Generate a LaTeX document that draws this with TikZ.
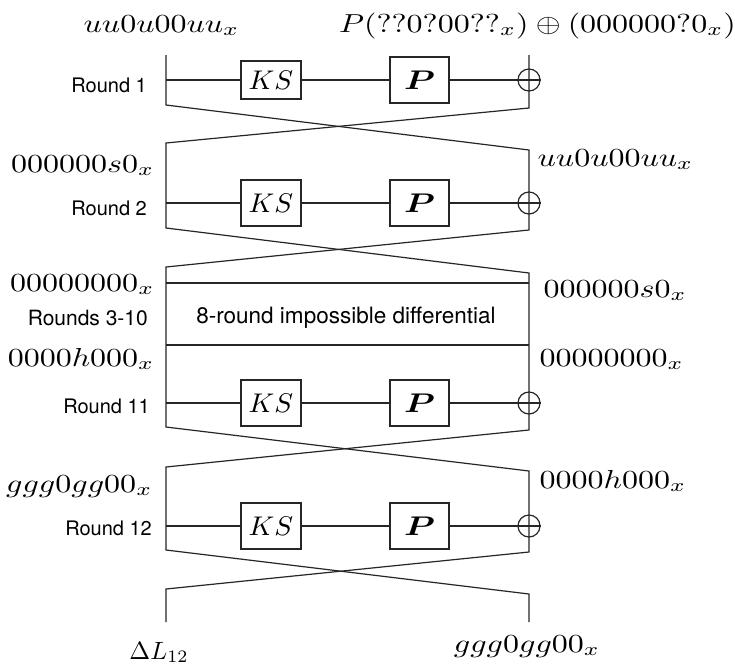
\documentclass[tikz,border=0pt]{standalone}
\usepackage{fontspec}
\setsansfont{TeX Gyre Heros}
\usepackage{amsmath}
\usepackage{graphicx}
\begin{document}
\begin{tikzpicture}[x=1pt,y=-1pt,
  wire/.style={line width=1.2pt, black!85, line join=miter},
  lab/.style={inner sep=0pt, xscale=3.2, yscale=2.6},
  rnd/.style={inner sep=0pt, anchor=east, font=\sffamily\fontsize{20}{24}\selectfont},
  kbox/.style={draw, line width=1.2pt, black!85, text=black, minimum width=60pt, minimum height=46pt, inner sep=0pt},
  xorc/.style={draw, circle, line width=1.2pt, black!85, minimum size=22pt, inner sep=0pt}]

\useasboundingbox (0,0) rectangle (735,670);
\fill[white] (0,0) rectangle (735,670);

% ---- one Feistel round: key schedule, permutation, xor ----
\foreach \n/\y/\h in {1/80/38, 2/203/46, 11/403/46, 12/526/46} {
  \node[kbox, minimum height=\h pt] (ks\n) at (271,\y) {\scalebox{2.8}[2.7]{$KS$}};
  \node[kbox, minimum width=59pt] (p\n) at (419.5,\y) {\scalebox{3.5}[2.7]{$\boldsymbol{P}$}};
  \node[xorc] (x\n) at (529,\y) {};
  \coordinate (in\n) at (166,\y);
  \draw[wire] (in\n) -- (ks\n) -- (p\n) -- (x\n.east);
}

% ---- branch corners ----
\coordinate (lt1) at (166,55);   \coordinate (rt1) at (529,55);
\coordinate (lb1) at (166,105);  \coordinate (rb1) at (529,108);
\coordinate (lt2) at (166,143);  \coordinate (rt2) at (529,150);
\coordinate (lb2) at (166,228);  \coordinate (rb2) at (529,230);
\coordinate (lt3) at (166,267);  \coordinate (rt3) at (529,273);
\coordinate (lb11) at (166,427); \coordinate (rb11) at (529,430);
\coordinate (lt12) at (166,467); \coordinate (rt12) at (529,471);
\coordinate (lb12) at (166,550); \coordinate (rb12) at (529,552);
\coordinate (lt13) at (166,589); \coordinate (rt13) at (529,594);
\coordinate (lb13) at (166,622); \coordinate (rb13) at (529,622);

% the two crossing branches
\draw[wire] (lt1) -- (lb1) -- (rt2) -- (rb2) -- (lt3) -- (lb11) -- (rt12) -- (rb12) -- (lt13) -- (lb13);
\draw[wire] (rt1) -- (rb1) -- (lt2) -- (lb2) -- (rt3) -- (rb11) -- (lt12) -- (lb12) -- (rt13) -- (rb13);

% ---- impossible differential block ----
\coordinate (dtl) at (166,283); \coordinate (dtr) at (529,283);
\coordinate (dbl) at (166,345); \coordinate (dbr) at (529,345);
\draw[wire] (dtl) -- (dtr);
\draw[wire] (dbl) -- (dbr);
\node[inner sep=0pt, font=\sffamily\fontsize{22.5}{26}\selectfont] (diff) at (346,318) {8-round impossible differential};

% ---- round labels ----
\node[rnd] (r1) at (147,85) {Round 1};
\node[rnd] (r2) at (147,208) {Round 2};
\node[rnd, font=\sffamily\fontsize{21}{25}\selectfont] (r310) at (148,318) {Rounds 3-10};
\node[rnd] (r11) at (150,406) {Round 11};
\node[rnd] (r12) at (152,528) {Round 12};

% ---- differences ----
\node[lab, anchor=base] (inL) at (161.5,32) {$uu0u00uu_x$};
\node[lab, anchor=base] (inR) at (537.5,32) {$P(??0?00??_x)\oplus(000000?0_x)$};

\node[lab, anchor=base east] (l2) at (155,172) {$000000s0_x$};
\node[lab, anchor=base west] (r2d) at (537,166) {$uu0u00uu_x$};

\node[lab, anchor=base east] (l3) at (155,291) {$00000000_x$};
\node[lab, anchor=base west] (r3d) at (543,297) {$000000s0_x$};

\node[lab, anchor=base east] (l11) at (155,366) {$0000h000_x$};
\node[lab, anchor=base west] (r11d) at (539,366) {$00000000_x$};

\node[lab, anchor=base east] (l12) at (153,492) {$ggg0gg00_x$};
\node[lab, anchor=base west] (r12d) at (539,488) {$0000h000_x$};

\node[inner sep=0pt, scale=2.5, anchor=base] (outL) at (159,659) {$\Delta L_{12}$};
\node[lab, anchor=base] (outR) at (527,652) {$ggg0gg00_x$};
\end{tikzpicture}
\end{document}
